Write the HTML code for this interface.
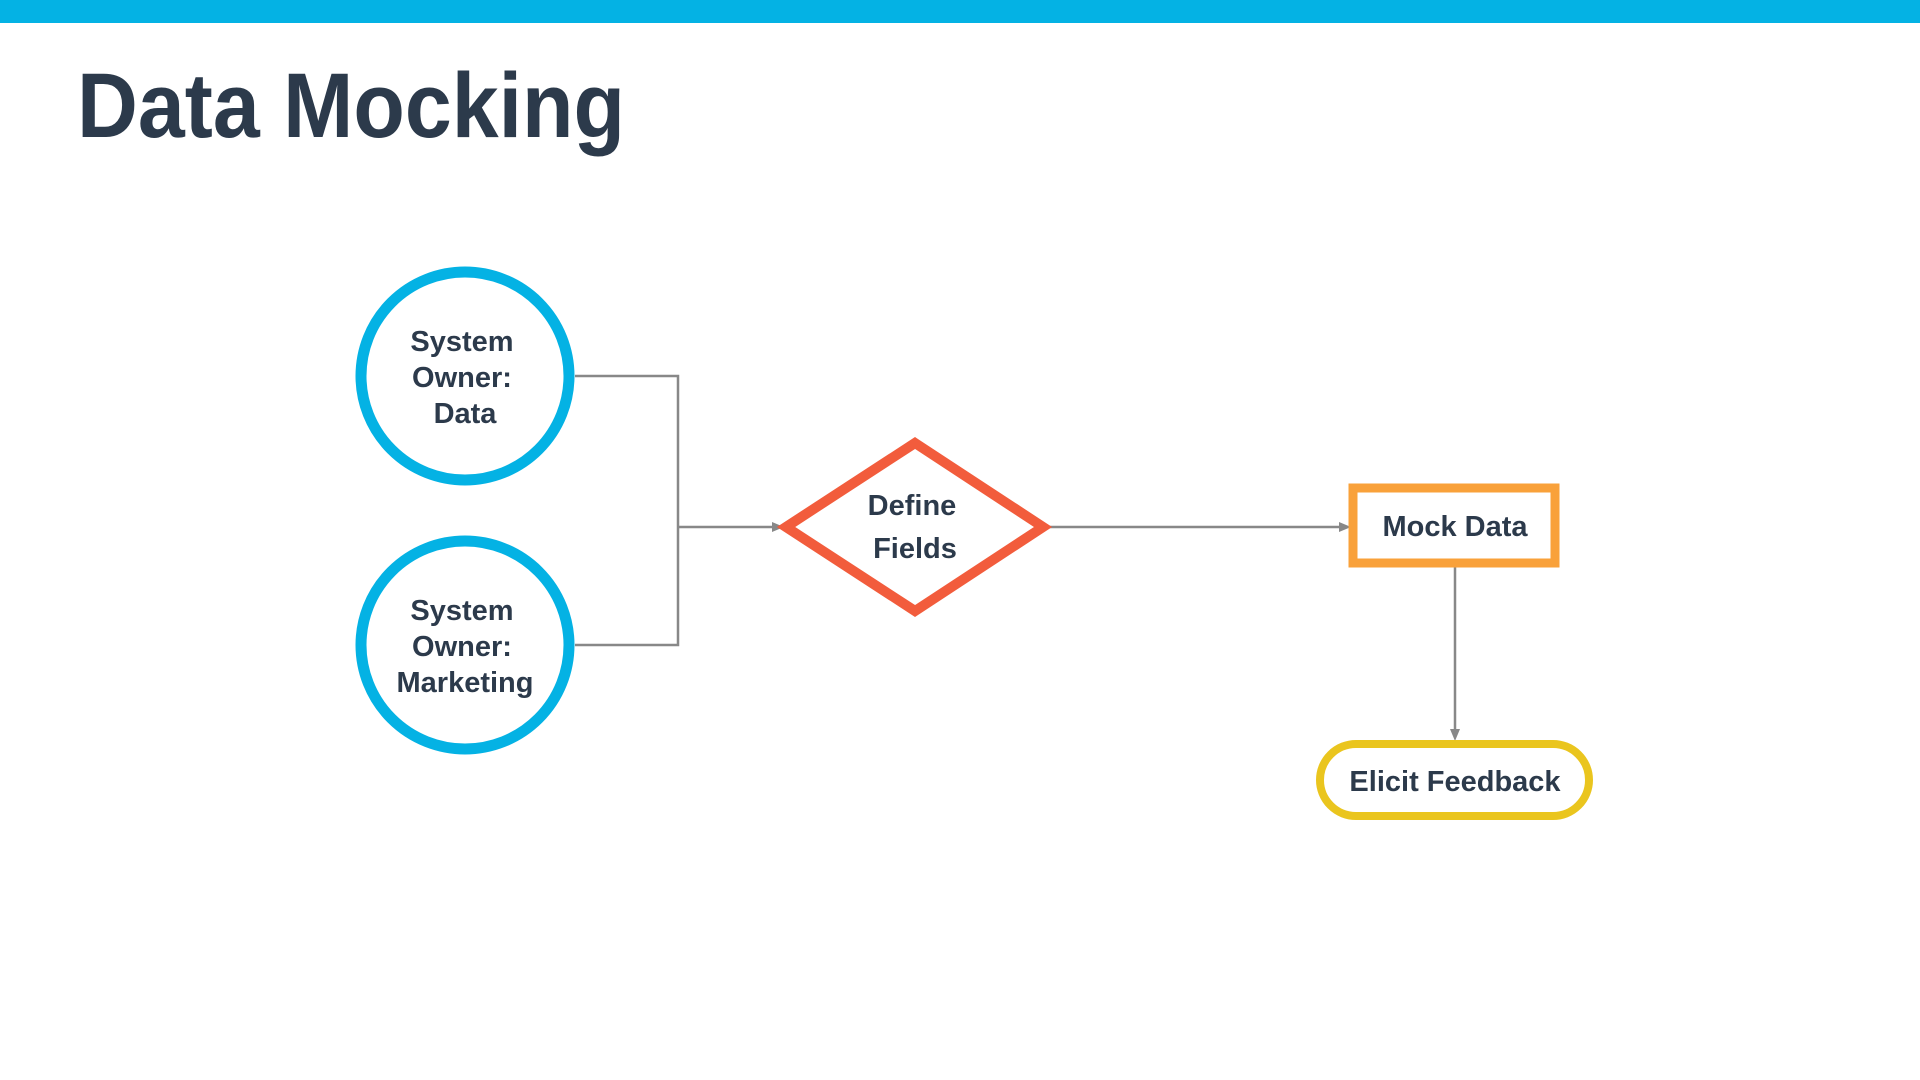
<!DOCTYPE html>
<html><head><meta charset="utf-8"><style>
html,body{margin:0;padding:0;background:#fff;width:1920px;height:1080px;overflow:hidden}
</style></head><body>
<svg width="1920" height="1080" viewBox="0 0 1920 1080" xmlns="http://www.w3.org/2000/svg" font-family="Liberation Sans, sans-serif">
<rect x="0" y="0" width="1920" height="23" fill="#04b2e4"/>
<text x="77" y="137" font-size="92" font-weight="bold" fill="#2c3a4b" textLength="548" lengthAdjust="spacingAndGlyphs">Data Mocking</text>
<g stroke="#888" stroke-width="2.5" fill="none">
<polyline points="575,376 678,376 678,645 575,645"/>
<line x1="678" y1="527" x2="776" y2="527"/>
<line x1="1048" y1="527" x2="1343" y2="527"/>
<line x1="1455" y1="567" x2="1455" y2="733"/>
</g>
<g fill="#888">
<polygon points="784,527 772,522 772,532"/>
<polygon points="1351,527 1339,522 1339,532"/>
<polygon points="1455,741 1450,729 1460,729"/>
</g>
<circle cx="465" cy="376" r="104" fill="#fff" stroke="#04b2e4" stroke-width="11"/>
<circle cx="465" cy="645" r="104" fill="#fff" stroke="#04b2e4" stroke-width="11"/>
<polygon points="915,443 1043,527 915,611 786,527" fill="#fff" stroke="#f25c3c" stroke-width="10"/>
<rect x="1353" y="488" width="202" height="75" fill="#fff" stroke="#f9a13a" stroke-width="9"/>
<rect x="1320" y="744" width="269" height="72" rx="36" fill="#fff" stroke="#eac51e" stroke-width="8"/>
<g font-size="29" font-weight="bold" fill="#2c3a4b" text-anchor="middle">
<text x="462" y="351">System</text>
<text x="462" y="387">Owner:</text>
<text x="465" y="423">Data</text>
<text x="462" y="620">System</text>
<text x="462" y="656">Owner:</text>
<text x="465" y="692">Marketing</text>
<text x="912" y="515">Define</text>
<text x="915" y="558">Fields</text>
<text x="1455" y="536">Mock Data</text>
<text x="1455" y="791">Elicit Feedback</text>
</g>
</svg>
</body></html>
